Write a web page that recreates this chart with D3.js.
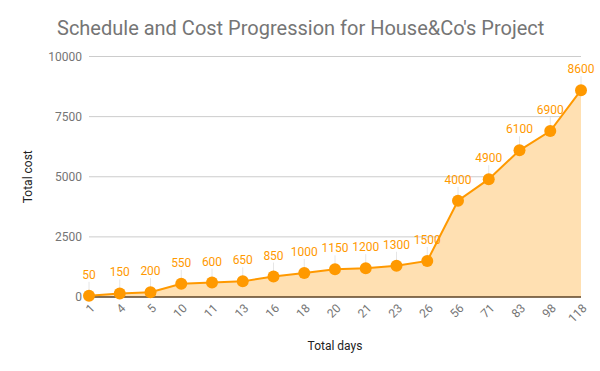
<html>
<head><script src="https://d3js.org/d3.v7.min.js"></script></head>
<style>
  body { margin: 0; background: #fff; }
  text { font-family: Roboto, Arial, sans-serif; }
</style>
<body>
<svg id="chart" width="600" height="371"></svg>
<script>
  const days = ["1","4","5","10","11","13","16","18","20","21","23","26","56","71","83","98","118"]
  const costs = [50,150,200,550,600,650,850,1000,1150,1200,1300,1500,4000,4900,6100,6900,8600]
  const yTicks = [0,2500,5000,7500,10000]

  const svg = d3.select("svg#chart")
  const margin = {top: 56.5, right: 19, bottom: 74, left: 89}
  const width = +svg.attr("width")
  const height = +svg.attr("height")

  const data = days.map((d, i) => ({day: d, cost: costs[i]}))

  let xScale = d3.scalePoint()
                 .domain(days)
                 .range([margin.left, width - margin.right])
  let yScale = d3.scaleLinear()
                 .domain([0, 10000])
                 .range([height - margin.bottom, margin.top])

  // title
  svg.append("text")
     .attr("x", 57).attr("y", 35)
     .attr("font-size", 20).attr("fill", "#757575")
     .text("Schedule and Cost Progression for House&Co's Project")

  // gridlines
  svg.append("g").selectAll("line").data(yTicks.slice(1)).join("line")
     .attr("x1", margin.left).attr("x2", width - margin.right)
     .attr("y1", d => yScale(d)).attr("y2", d => yScale(d))
     .attr("stroke", "#cccccc").attr("stroke-width", 1)

  // y axis labels
  const yAxis = svg.append("g")
     .attr("transform", `translate(${margin.left - 7},0)`)
     .call(d3.axisLeft(yScale).tickValues(yTicks).tickSize(0).tickPadding(0).tickFormat(d3.format("d")))
  yAxis.select(".domain").remove()
  yAxis.selectAll("text").attr("font-size", 12).attr("fill", "#757575")
       .attr("font-family", "Roboto, Arial, sans-serif")

  // area
  svg.append("path").datum(data)
     .attr("fill", "#ffe0b2")
     .attr("d", d3.area().x(d => xScale(d.day)).y0(yScale(0)).y1(d => yScale(d.cost)))

  // baseline
  svg.append("line")
     .attr("x1", margin.left).attr("x2", width - margin.right)
     .attr("y1", yScale(0)).attr("y2", yScale(0))
     .attr("stroke", "#5d4326").attr("stroke-width", 1.3)

  // leader lines
  svg.append("g").selectAll("line").data(data).join("line")
     .attr("x1", d => xScale(d.day)).attr("x2", d => xScale(d.day))
     .attr("y1", d => yScale(d.cost) - 4).attr("y2", d => yScale(d.cost) - 14)
     .attr("stroke", "#e6e6e6").attr("stroke-width", 1)

  // line
  svg.append("path").datum(data)
     .attr("fill", "none").attr("stroke", "#ff9900").attr("stroke-width", 2)
     .attr("d", d3.line().x(d => xScale(d.day)).y(d => yScale(d.cost)))

  // points
  svg.append("g").selectAll("circle").data(data).join("circle")
     .attr("cx", d => xScale(d.day)).attr("cy", d => yScale(d.cost))
     .attr("r", 6).attr("fill", "#ff9900")

  // value labels
  svg.append("g").selectAll("text").data(data).join("text")
     .attr("x", d => xScale(d.day)).attr("y", d => yScale(d.cost) - 17)
     .attr("text-anchor", "middle").attr("font-size", 12).attr("fill", "#ff9900")
     .text(d => d.cost)

  // x axis labels
  const xAxis = svg.append("g")
     .attr("transform", `translate(0,${yScale(0)})`)
     .call(d3.axisBottom(xScale).tickSize(0).tickPadding(0))
  xAxis.select(".domain").remove()
  xAxis.selectAll("text")
       .attr("font-size", 12).attr("fill", "#757575")
       .attr("font-family", "Roboto, Arial, sans-serif")
       .attr("text-anchor", "end").attr("dy", "0.35em")
       .attr("transform", "translate(3,9) rotate(-45)")

  // axis titles
  svg.append("text")
     .attr("x", 335).attr("y", 350).attr("text-anchor", "middle")
     .attr("font-size", 12).attr("fill", "#222222")
     .text("Total days")
  svg.append("text")
     .attr("transform", `translate(32,${(yScale(0) + yScale(10000)) / 2}) rotate(-90)`)
     .attr("text-anchor", "middle")
     .attr("font-size", 12).attr("fill", "#222222")
     .text("Total cost")
</script>
</body>
</html>
